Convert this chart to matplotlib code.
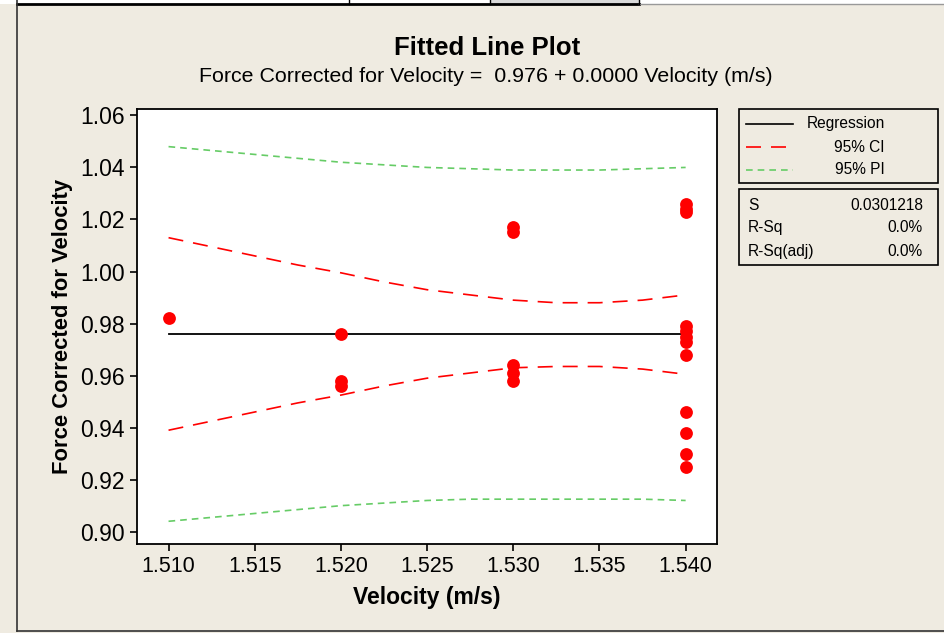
import matplotlib.pyplot as plt
from matplotlib.patches import Rectangle
from matplotlib.lines import Line2D

plt.rcParams['font.family'] = ['Liberation Sans', 'DejaVu Sans']

# observations
velocity = [1.510,
            1.520, 1.520, 1.520,
            1.530, 1.530, 1.530, 1.530, 1.530,
            1.540, 1.540, 1.540, 1.540, 1.540, 1.540, 1.540,
            1.540, 1.540, 1.540, 1.540, 1.540]
force = [0.982,
         0.976, 0.958, 0.956,
         1.017, 1.015, 0.964, 0.961, 0.958,
         1.026, 1.024, 1.023, 0.979, 0.977, 0.975, 0.973,
         0.968, 0.946, 0.938, 0.930, 0.925]

# fitted line and bands
fit_x = [1.510, 1.540]
fit_y = [0.976, 0.976]
band_x = [1.510, 1.5125, 1.515, 1.5175, 1.520, 1.5225, 1.525,
          1.5275, 1.530, 1.5325, 1.535, 1.5375, 1.540]
ci_upper = [1.013, 1.0095, 1.006, 1.0025, 0.9995, 0.996, 0.993,
            0.991, 0.989, 0.988, 0.988, 0.989, 0.991]
ci_lower = [0.939, 0.9425, 0.946, 0.9495, 0.9525, 0.956, 0.959,
            0.961, 0.963, 0.9635, 0.9635, 0.9625, 0.9605]
pi_upper = [1.048, 1.0465, 1.045, 1.0435, 1.042, 1.041, 1.040,
            1.0395, 1.039, 1.039, 1.039, 1.0395, 1.040]
pi_lower = [0.904, 0.9055, 0.907, 0.9085, 0.910, 0.911, 0.912,
            0.9125, 0.9125, 0.9125, 0.9125, 0.9125, 0.912]

xticks = [1.510, 1.515, 1.520, 1.525, 1.530, 1.535, 1.540]
yticks = [0.90, 0.92, 0.94, 0.96, 0.98, 1.00, 1.02, 1.04, 1.06]

stat_names = ['S', 'R-Sq', 'R-Sq(adj)']
stat_values = ['0.0301218', '0.0%', '0.0%']

W, H = 945, 633
bg = '#EFEBE1'
fig = plt.figure(figsize=(W / 100, H / 100), dpi=100, facecolor=bg)


def fx(px):
    return px / W


def fy(py):
    return 1 - py / H


ax = fig.add_axes([fx(137), fy(544), fx(717) - fx(137), fy(109) - fy(544)])
ax.set_facecolor('white')

ax.plot(band_x, pi_upper, color='#66CC66', lw=1.2, dashes=(4, 3))
ax.plot(band_x, pi_lower, color='#66CC66', lw=1.2, dashes=(4, 3))
ax.plot(band_x, ci_upper, color='#FF0000', lw=1.2, dashes=(9, 6))
ax.plot(band_x, ci_lower, color='#FF0000', lw=1.2, dashes=(9, 6))
ax.plot(fit_x, fit_y, color='black', lw=1.3)
ax.scatter(velocity, force, s=85, color='#FF0000', zorder=5, linewidths=0)

ax.set_xlim(1.50817, 1.54182)
ax.set_ylim(0.89527, 1.06246)
ax.set_xticks(xticks)
ax.set_xticklabels(['%.3f' % v for v in xticks])
ax.set_yticks(yticks)
ax.set_yticklabels(['%.2f' % v for v in yticks])
ax.tick_params(direction='out', length=5, width=1.2, pad=4)
ax.tick_params(axis='x', labelsize=15.5)
ax.tick_params(axis='y', labelsize=16.5)
for sp in ax.spines.values():
    sp.set_linewidth(1.3)

ax.set_xlabel('Velocity (m/s)', fontsize=16.5, fontweight='bold', labelpad=6)
ax.set_ylabel('Force Corrected for Velocity', fontsize=15.8, fontweight='bold', labelpad=5)

fig.text(fx(487), fy(48), 'Fitted Line Plot', ha='center', va='center',
         fontsize=18.5, fontweight='bold')
fig.text(fx(486), fy(76), 'Force Corrected for Velocity =  0.976 + 0.0000 Velocity (m/s)',
         ha='center', va='center', fontsize=15.4)

# legend box
fig.patches.append(Rectangle((fx(739), fy(183)), fx(938) - fx(739), fy(109) - fy(183),
                             transform=fig.transFigure, fill=False, ec='black', lw=1.2))
rows = [(124, 'Regression', 'black', '-'), (147, '95% CI', '#FF0000', (0, (9, 6))),
        (170, '95% PI', '#66CC66', (0, (4, 3)))]
for yy, label, col, ls in rows:
    fig.lines.append(Line2D([fx(746), fx(793)], [fy(yy), fy(yy)], transform=fig.transFigure,
                            color=col, lw=1.2, linestyle=ls))
    fig.text(fx(885), fy(yy), label, ha='right', va='center', fontsize=11.2)

# summary box
fig.patches.append(Rectangle((fx(739), fy(265)), fx(938) - fx(739), fy(189) - fy(265),
                             transform=fig.transFigure, fill=False, ec='black', lw=1.2))
for i, (name, val) in enumerate(zip(stat_names, stat_values)):
    yy = 205 + i * 23
    fig.text(fx(748), fy(yy), name, ha='left', va='center', fontsize=11.2)
    fig.text(fx(923), fy(yy), val, ha='right', va='center', fontsize=11.2)

# window frame
fig.patches.append(Rectangle((0, fy(4)), 1, 1 - fy(4), transform=fig.transFigure,
                             fc='white', ec='none'))
fig.patches.append(Rectangle((fx(490), fy(4)), fx(639) - fx(490), 1 - fy(4),
                             transform=fig.transFigure, fc='#D9D9D9', ec='none'))
fig.lines.append(Line2D([fx(17), fx(639)], [fy(4), fy(4)], transform=fig.transFigure,
                        color='black', lw=2))
fig.lines.append(Line2D([fx(639), 1], [fy(4), fy(4)], transform=fig.transFigure,
                        color='#999999', lw=1))
for xx in [349, 490, 639]:
    fig.lines.append(Line2D([fx(xx), fx(xx)], [fy(4), 1], transform=fig.transFigure,
                            color='black', lw=1))
fig.lines.append(Line2D([fx(17), fx(17)], [fy(631), 1], transform=fig.transFigure,
                        color='#333333', lw=1.2))
fig.lines.append(Line2D([fx(17), 1], [fy(631), fy(631)], transform=fig.transFigure,
                        color='#333333', lw=1.2))

fig.savefig('out.png', dpi=100, facecolor=bg)
